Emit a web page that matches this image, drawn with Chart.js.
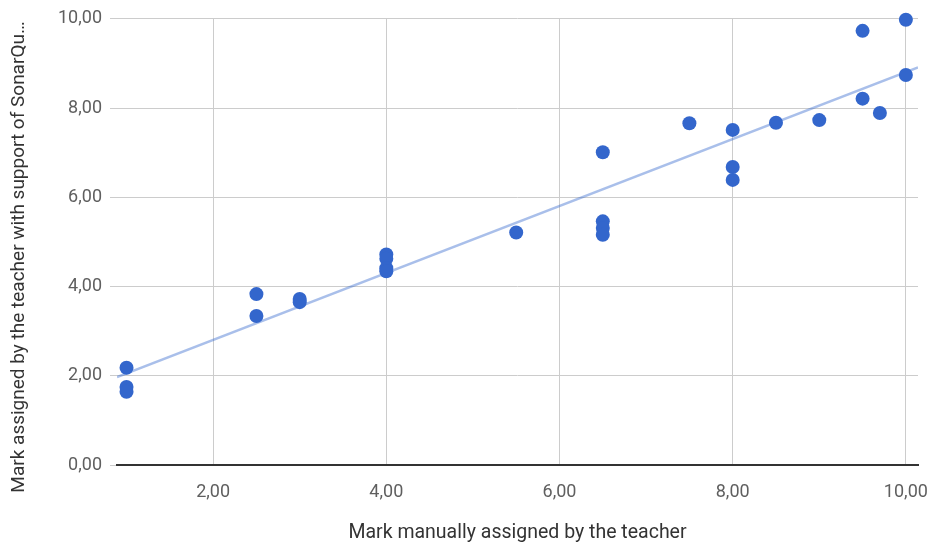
<!DOCTYPE html>
<html>
<head>
<meta charset="utf-8">
<script src="https://cdn.jsdelivr.net/npm/chart.js@4.4.1/dist/chart.umd.min.js"></script>
<style>
  html, body { margin: 0; padding: 0; background: #fff; }
  #wrap { width: 930px; height: 546px; position: relative; }
</style>
</head>
<body>
<div id="wrap"><canvas id="marksChart"></canvas></div>
<script>
// marks
const manualMarks = [1, 1, 1, 2.5, 2.5, 3, 3, 4, 4, 4, 4, 5.5, 6.5, 6.5, 6.5, 6.5, 7.5, 8, 8, 8, 8.5, 9, 9.5, 9.5, 9.7, 10, 10];
const sonarMarks = [2.18, 1.75, 1.64, 3.83, 3.34, 3.72, 3.65, 4.72, 4.62, 4.41, 4.34, 5.21, 7.01, 5.46, 5.31, 5.16, 7.66, 7.51, 6.68, 6.39, 7.67, 7.73, 9.73, 8.21, 7.89, 9.98, 8.74];

// trend line ends
const trendX = [0.89, 10.14];
const trendY = [1.97, 8.91];

const xTicks = [2, 4, 6, 8, 10];
const yTicks = [0, 2, 4, 6, 8, 10];

const fmt = v => v.toFixed(2).replace('.', ',');

// y title drawn by hand so it can sit a bit lower like the original
const yTitlePlugin = {
    id: 'yTitle',
    afterDraw(chart) {
        const ctx = chart.ctx;
        ctx.save();
        ctx.translate(19, 257);
        ctx.rotate(-Math.PI / 2);
        ctx.font = '19px Roboto';
        ctx.fillStyle = '#333';
        ctx.textAlign = 'center';
        ctx.textBaseline = 'middle';
        ctx.fillText('Mark assigned by the teacher with support of SonarQu…', 0, 0);
        ctx.restore();
    }
};

new Chart(document.getElementById('marksChart'), {
    type: 'scatter',
    data: {
        datasets: [{
            data: manualMarks.map((x, i) => ({ x: x, y: sonarMarks[i] })),
            backgroundColor: '#3366cc',
            borderWidth: 0,
            pointRadius: 7,
            clip: false,
            order: 0
        }, {
            data: trendX.map((x, i) => ({ x: x, y: trendY[i] })),
            showLine: true,
            borderColor: 'rgba(51, 102, 204, 0.42)',
            borderWidth: 2.5,
            pointRadius: 0,
            order: 1
        }]
    },
    options: {
        responsive: true,
        maintainAspectRatio: false,
        animation: false,
        layout: { padding: { top: 16, right: 12, left: 0, bottom: 0 } },
        plugins: { legend: { display: false }, tooltip: { enabled: false } },
        scales: {
            x: {
                type: 'linear',
                min: 0.89,
                max: 10.14,
                afterBuildTicks: s => { s.ticks = xTicks.map(v => ({ value: v })); },
                afterFit: s => { s.height = 81; s.paddingLeft = 0; s.paddingRight = 0; },
                grid: { color: '#cccccc', drawTicks: false },
                border: { color: '#333', width: 2 },
                ticks: {
                    padding: 17,
                    color: '#5f5f5f',
                    font: { family: 'Roboto', size: 18 },
                    callback: v => fmt(v)
                },
                title: {
                    display: true,
                    text: 'Mark manually assigned by the teacher',
                    color: '#333',
                    font: { family: 'Roboto', size: 19.5 },
                    padding: { top: 0, bottom: 1 }
                }
            },
            y: {
                min: 0,
                max: 10,
                afterBuildTicks: s => { s.ticks = yTicks.map(v => ({ value: v })); },
                afterFit: s => { s.width = 117; },
                grid: { color: '#cccccc', tickLength: 7 },
                border: { display: false },
                ticks: {
                    padding: 8,
                    color: '#5f5f5f',
                    font: { family: 'Roboto', size: 18 },
                    callback: v => fmt(v)
                }
            }
        }
    },
    plugins: [yTitlePlugin]
});
</script>
</body>
</html>
